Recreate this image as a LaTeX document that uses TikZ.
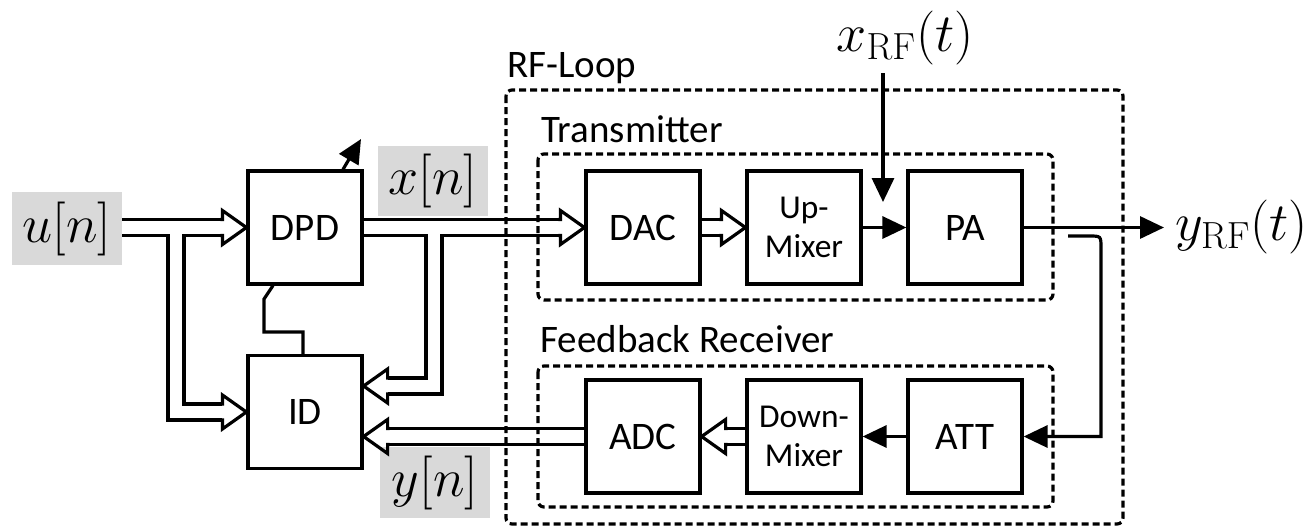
\RequirePackage{fix-cm}
\documentclass[tikz,border=0pt]{standalone}
\usepackage[no-math]{fontspec}
\setmainfont{Carlito}
\usetikzlibrary{arrows.meta,calc}
\tikzset{
  blk/.style={draw, line width=1.6pt, minimum width=57pt, minimum height=56.5pt, inner sep=0pt, align=center, font=\fontsize{19.5}{19.5}\selectfont},
  blktwo/.style={blk, font=\fontsize{16.7}{19.5}\selectfont},
  grp/.style={inner sep=0pt, anchor=base west, font=\fontsize{19.5}{21}\selectfont},
  sig/.style={fill=black!15, inner sep=0pt, minimum width=55pt, font=\fontsize{27}{30}\selectfont},
  mlab/.style={inner sep=0pt, font=\fontsize{27}{30}\selectfont},
  pipeo/.style={line width=9.6pt, line join=miter, black},
  pipei/.style={line width=6.4pt, line join=miter, white},
  hol/.style={line width=1.6pt, line join=miter},
  arr/.style={line width=1.6pt, -{Triangle[length=12pt,width=11pt]}},
  wire/.style={line width=1.6pt},
  dbox/.style={line width=1.6pt, dash pattern=on 3.5pt off 2pt, rounded corners=3pt},
}
\newcommand\hollowhead[2]{\begin{scope}[shift={(#1)},rotate=#2]\draw[hol] (-26,-8) -- (-24,-8) -- (-24,-17) -- (0,0) -- (-24,17) -- (-24,8) -- (-26,8);\end{scope}}
\begin{document}
\begin{tikzpicture}[x=0.5pt,y=-0.5pt]
\useasboundingbox (0,0) rectangle (1307,526);
% blocks
\node[blk] (dpd) at (305,227.5) {DPD};
\node[blk] (id) at (305,412) {ID};
\node[blk] (dac) at (643,227.5) {DAC};
\node[blktwo] (upm) at (804,227.5) {Up-\\Mixer};
\node[blk] (pa) at (965,227.5) {PA};
\node[blk] (adc) at (643,436.5) {ADC};
\node[blktwo] (dnm) at (804,436.5) {Down-\\Mixer};
\node[blk] (att) at (965,436.5) {ATT};
% signal labels
\node[sig, minimum height=36.5pt] (un) at (67,228.5) {$u[n]$};
\node[sig, minimum height=35pt] (xn) at (433,181) {$x[n]$};
\node[sig, minimum height=35.5pt] (yn) at (435,482.5) {$y[n]$};
\node[mlab] (xrf) at (905,37.5) {$x_{\mathrm{RF}}(t)$};
\node[mlab, anchor=west] (yrf) at (1175,227) {$y_{\mathrm{RF}}(t)$};
% group labels
\node[grp] (lrf) at (507,77) {RF-Loop};
\node[grp] (ltx) at (541,142) {Transmitter};
\node[grp] (lfb) at (540,352) {Feedback Receiver};
% junctions and arrow tips
\coordinate (j1) at (176,227.5);
\coordinate (j2) at (434,227.5);
\coordinate (hA) at (dpd.west);
\coordinate (hB) at (id.west);
\coordinate (hC) at (dac.west);
\coordinate (hD) at ($(id.east)+(0,-26)$);
\coordinate (hE) at (id.east |- adc.west);
\coordinate (hF) at (upm.west);
\coordinate (hG) at (adc.east);
% wide (double) signal paths
\foreach \s in {pipeo,pipei}{
  \draw[\s] (un.east |- j1) -- (j1) -- (j1 |- hB) -- ($(hB)+(-24,0)$);
  \draw[\s] (j1) -- ($(hA)+(-24,0)$);
  \draw[\s] (dpd.east) -- ($(hC)+(-24,0)$);
  \draw[\s] (j2) -- (j2 |- hD) -- ($(hD)+(24,0)$);
  \draw[\s] (adc.west) -- ($(hE)+(24,0)$);
  \draw[\s] (dac.east) -- ($(hF)+(-24,0)$);
  \draw[\s] (dnm.west) -- ($(hG)+(24,0)$);
}
\hollowhead{hA}{0}
\hollowhead{hB}{0}
\hollowhead{hC}{0}
\hollowhead{hD}{180}
\hollowhead{hE}{180}
\hollowhead{hF}{0}
\hollowhead{hG}{180}
% single lines
\draw[arr] (upm.east) -- (pa.west);
\coordinate (yo) at (1164,227.5);
\draw[arr] (pa.east) -- (yo);
\coordinate (xs) at (883,73);
\coordinate (xe) at (883,202);
\draw[arr] (xs) -- (xe);
\draw[arr] (att.west) -- (dnm.east);
\coordinate (cp) at (1068,236);
\draw[arr] (cp) -- (1089,236) .. controls (1101,236) .. (1101,248) -- (1101,436.5) -- (att.east);
\coordinate (ad0) at ($(dpd.north)+(38,0)$);
\coordinate (ad1) at (361,139);
\draw[arr] (ad0) -- (ad1);
\coordinate (w1) at (264,299);
\coordinate (w2) at (303,332);
\draw[wire] ($(dpd.south)+(-32,0)$) -- (w1) -- (w1 |- w2) -- (w2) -- (w2 |- id.north);
% dashed frames
\draw[dbox] (506,90) rectangle (1123,524);
\draw[dbox] (538,154) rectangle (1053,300);
\draw[dbox] (538,366) rectangle (1053,507);
\end{tikzpicture}
\end{document}
